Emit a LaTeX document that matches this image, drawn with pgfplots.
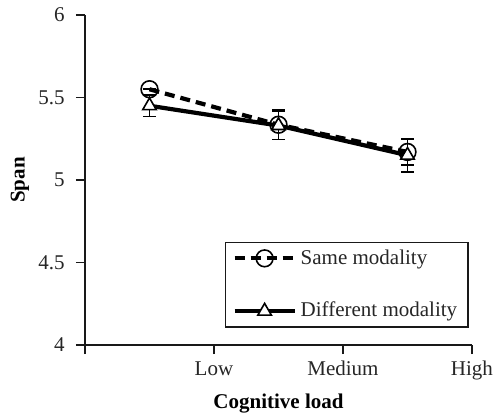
\documentclass[border=0pt]{standalone}
\usepackage{fontspec}
\setmainfont{Liberation Serif}
\usepackage{pgfplots}
\pgfplotsset{compat=1.18}
\begin{document}
\fontsize{10.5}{12.6}\selectfont
\begin{tikzpicture}
\begin{axis}[
 at={(0pt,0pt)}, anchor=south west,
 scale only axis, width=193.5pt, height=165pt,
 xmin=0, xmax=3, ymin=4, ymax=6,
 axis x line*=bottom, axis y line*=left,
 axis line style={line width=0.9pt, black!90},
 xtick={0,1,2,3}, xticklabels={,Low,Medium,High},
 ytick={4,4.5,5,5.5,6},
 yticklabels={4,4.5,5,5.5,6},
 tick align=outside, major tick length=4.5pt,
 tick style={line width=0.9pt, black!90},
 /pgf/number format/assume math mode=true,
 ticklabel style={text=black!85},
 yticklabel style={xshift=-2pt},
 xlabel={\textbf{Cognitive load}}, ylabel={\textbf{Span}},
 xlabel style={at={(axis description cs:0.5,-0.176)}, anchor=center},
 ylabel style={at={(axis description cs:-0.168,0.5)}, anchor=center},
 legend style={at={(rel axis cs:0.992,0.052)}, anchor=south east, draw=black!90, line width=0.7pt, inner xsep=3.5pt, inner ysep=1.5pt, row sep=13.5pt, text=black!85},
 legend cell align=left,
 legend image code/.code={\draw[mark repeat=2,mark phase=2] plot coordinates {(0pt,0pt) (15pt,0pt) (30pt,0pt)};},
]
\addplot[black, line width=2.1pt, dash pattern=on 5pt off 3pt, mark=o, mark size=4.2pt,
  mark options={solid, line width=0.8pt},
  error bars/.cd, y dir=both, y explicit,
  error bar style={solid, line width=0.8pt},
  error mark options={rotate=90, mark size=3.2pt, line width=0.8pt}]
 coordinates {(0.5,5.55) +- (0,0.0) (1.5,5.335) +- (0,0.09) (2.5,5.17) +- (0,0.08)};
\addlegendentry{Same modality}
\addplot[black, line width=2.1pt, mark=triangle*, mark size=3.9pt,
  mark options={solid, fill=white, line width=0.8pt},
  error bars/.cd, y dir=both, y explicit,
  error bar style={solid, line width=0.8pt},
  error mark options={rotate=90, mark size=3.2pt, line width=0.8pt}]
 coordinates {(0.5,5.45) +- (0,0.065) (1.5,5.33) +- (0,0.085) (2.5,5.15) +- (0,0.1)};
\addlegendentry{Different modality}
\end{axis}
\pgfresetboundingbox
\path (-42.5pt,-34.5pt) rectangle (204.5pt,172.5pt);
\end{tikzpicture}
\end{document}
